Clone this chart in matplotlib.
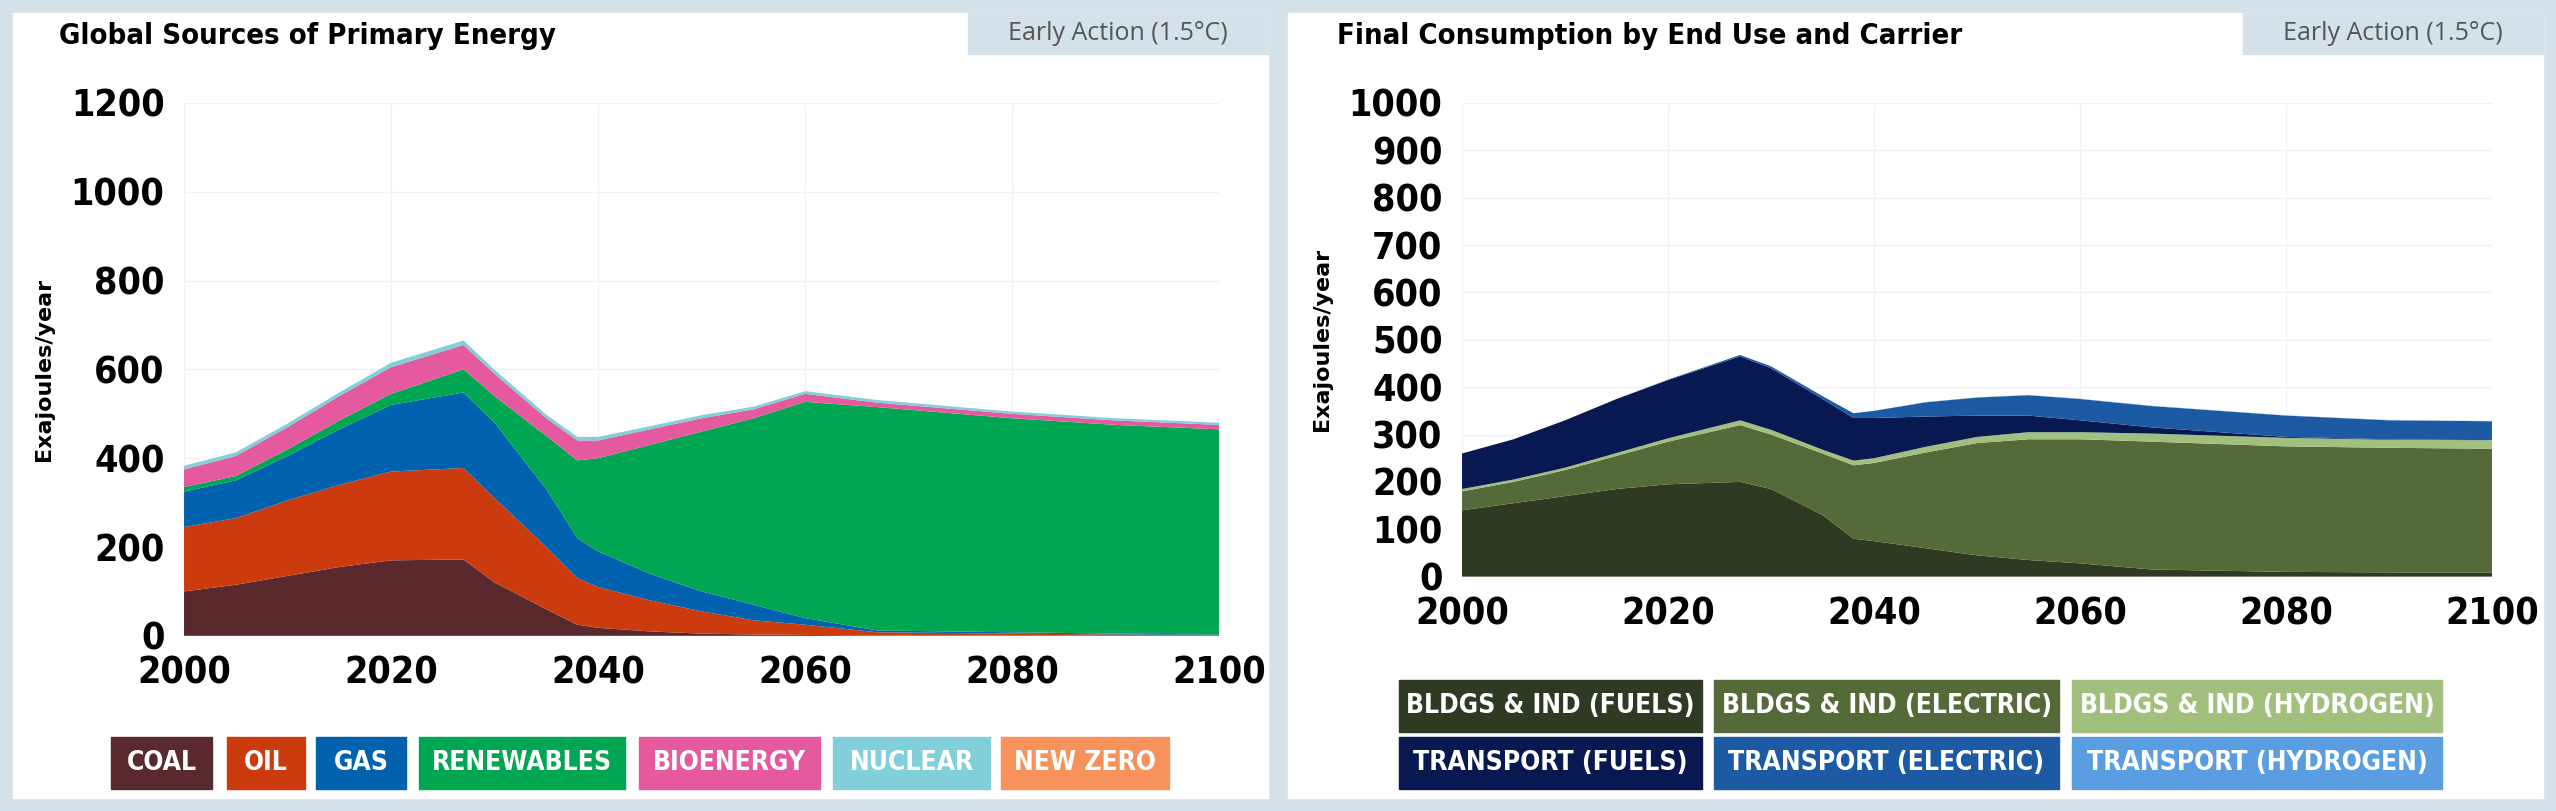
import matplotlib
matplotlib.use("Agg")
from matplotlib import pyplot as plt
import matplotlib.patches as mpatches

years = [2000, 2005, 2010, 2015, 2020, 2027, 2030, 2035, 2038, 2040, 2045, 2050, 2055, 2060, 2067, 2080, 2090, 2100]

# Primary energy (EJ/yr), one layer each
coal = [100, 115, 135, 155, 170, 172, 120, 60, 25, 18, 10, 5, 3, 2, 1, 0.5, 0.3, 0.2]
oil = [145, 150, 170, 185, 200, 206, 190, 140, 105, 92, 70, 50, 32, 23, 7, 4.5, 2.7, 1.8]
gas = [80, 85, 100, 125, 150, 170, 170, 130, 90, 80, 60, 45, 35, 15, 4, 3, 2, 1]
renewables = [10, 10, 15, 20, 25, 52, 60, 120, 175, 210, 290, 360, 420, 487, 503, 482, 470, 462]
bioenergy = [40, 45, 50, 55, 60, 55, 50, 40, 45, 40, 35, 30, 20, 18, 10, 10, 10, 10]
nuclear = [8, 8, 8, 8, 10, 10, 9, 8, 8, 8, 7, 7, 6, 6, 6, 5, 5, 5]
new_zero = [0] * 18

# Final consumption (EJ/yr)
bldg_fuels = [140, 155, 170, 185, 195, 200, 185, 130, 80, 75, 60, 45, 35, 28, 15, 10, 9, 8]
bldg_elec = [40, 45, 55, 70, 90, 120, 115, 130, 155, 165, 202, 237, 255, 262, 270, 265, 263, 262]
bldg_h2 = [5, 5, 5, 6, 7, 10, 10, 8, 10, 10, 12, 13, 15, 15, 17, 18, 17, 18]
trans_fuels = [75, 85, 100, 114, 123, 135, 130, 107, 90, 85, 64, 45, 35, 25, 13, 2, 1, 0]
trans_elec = [0, 0, 0, 0, 1, 3, 4, 6, 10, 15, 30, 38, 43, 45, 45, 45, 40, 40]
trans_h2 = [0, 0, 0, 0, 0, 0, 0, 0, 0, 0, 0.5, 0.5, 0.5, 0.5, 0.5, 0.5, 0.5, 0.5]

left_labels = ["COAL", "OIL", "GAS", "RENEWABLES", "BIOENERGY", "NUCLEAR", "NEW ZERO"]
left_colors = ["#5a292d", "#cc3b0e", "#0062ae", "#00a651", "#e55a9f", "#80cfd9", "#f7935a"]
right_labels = ["BLDGS & IND (FUELS)", "BLDGS & IND (ELECTRIC)", "BLDGS & IND (HYDROGEN)",
                "TRANSPORT (FUELS)", "TRANSPORT (ELECTRIC)", "TRANSPORT (HYDROGEN)"]
right_colors = ["#2e3a21", "#546b39", "#a1c07d", "#081851", "#1c5ba3", "#5a9de0"]

cond = dict(family="DejaVu Sans", stretch="condensed", weight="bold")

fig = plt.figure(figsize=(25.56, 8.11), dpi=100)
fig.patch.set_facecolor("#d5e1e9")
for x0 in (13 / 2556, 1288 / 2556):
    fig.add_artist(mpatches.Rectangle((x0, 13 / 811), 1255 / 2556, 785 / 811,
                                      transform=fig.transFigure, color="white", zorder=0))
    fig.add_artist(mpatches.Rectangle((x0 + 955 / 2556, 757 / 811), 300 / 2556, 41 / 811,
                                      transform=fig.transFigure, color="#d5e1e9", zorder=1))
    fig.text(x0 + 1105 / 2556, 777 / 811, "Early Action (1.5°C)", ha="center", va="center",
             fontsize=18, color="#555555", family="Open Sans")


def style(ax, ymax, step, title, tx):
    ax.set_xlim(2000, 2100)
    ax.set_ylim(0, ymax)
    ax.set_xticks(range(2000, 2101, 20))
    ax.set_yticks(range(0, ymax + 1, step))
    ax.grid(True, color="#f2f2f2", lw=1)
    ax.set_axisbelow(True)
    for s in ax.spines.values():
        s.set_visible(False)
    ax.tick_params(length=0, pad=14)
    for lab in ax.get_xticklabels() + ax.get_yticklabels():
        lab.set_fontsize(27)
        lab.set_fontproperties(matplotlib.font_manager.FontProperties(size=27, **cond))
    ax.set_ylabel("Exajoules/year", fontsize=16, fontweight="bold", labelpad=12)
    fig.text(tx, 0.955, title, fontsize=21, va="center", **cond)


ax1 = fig.add_axes([0.072, 0.216, 0.405, 0.657])
ax1.stackplot(years, coal, oil, gas, renewables, bioenergy, nuclear, new_zero,
              colors=left_colors, lw=0)
style(ax1, 1200, 200, "Global Sources of Primary Energy", 0.023)

ax2 = fig.add_axes([0.572, 0.289, 0.403, 0.584])
ax2.stackplot(years, bldg_fuels, bldg_elec, bldg_h2, trans_fuels, trans_elec, trans_h2,
              colors=right_colors, lw=0)
style(ax2, 1000, 100, "Final Consumption by End Use and Carrier", 0.523)


def legend_box(x, y, w, h, label, color):
    fig.add_artist(mpatches.Rectangle((x / 2556, 1 - (y + h) / 811), w / 2556, h / 811,
                                      transform=fig.transFigure, color=color))
    fig.text((x + w / 2) / 2556, 1 - (y + h / 2) / 811, label, ha="center", va="center",
             color="white", fontsize=19, **cond)


left_x = [111, 227, 316, 419, 639, 833, 1001]
left_w = [101, 78, 90, 206, 181, 157, 168]
for x, w, lab, c in zip(left_x, left_w, left_labels, left_colors):
    legend_box(x, 737, w, 52, lab, c)

right_x = [1399, 1714, 2072]
right_w = [303, 345, 370]
for i, (lab, c) in enumerate(zip(right_labels, right_colors)):
    legend_box(right_x[i % 3], 680 + 57 * (i // 3), right_w[i % 3], 52, lab, c)

fig.savefig("out.png", dpi=100, facecolor=fig.get_facecolor())
